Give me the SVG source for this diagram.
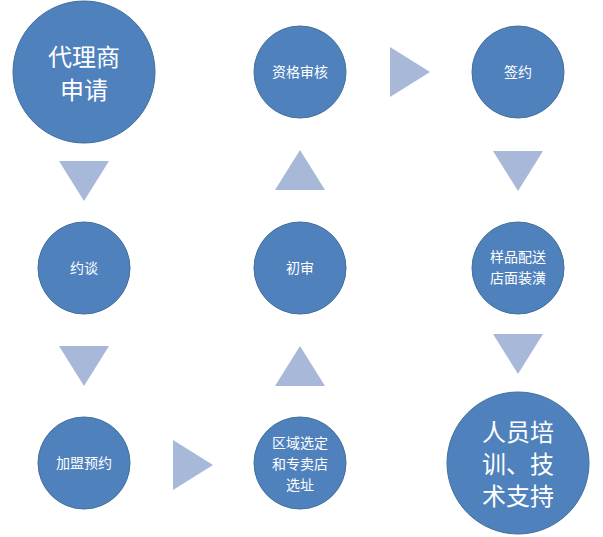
<svg xmlns="http://www.w3.org/2000/svg" width="603" height="537" viewBox="0 0 603 537">
<style>
.n{fill:#4F81BD;stroke:#41719C;stroke-width:1}
.a{fill:#A7B8D8}
text{fill:#fff;font-family:"Noto Sans CJK SC","Liberation Sans",sans-serif;text-anchor:middle}
.s{font-size:14px}
.b{font-size:24px}
</style>
<rect width="603" height="537" fill="#fff"/>
<g id="connectors">
<polygon class="a" points="59,161 109,161 84,201"/>
<polygon class="a" points="59,346 109,346 84,386"/>
<polygon class="a" points="173,440 213,465 173,490"/>
<polygon class="a" points="275,386 325,386 300,346"/>
<polygon class="a" points="275,190 325,190 300,150"/>
<polygon class="a" points="390,47 430,72 390,97"/>
<polygon class="a" points="493,151 543,151 518,191"/>
<polygon class="a" points="493,334 543,334 518,374"/>
</g>
<g id="n1"><circle class="n" cx="84" cy="72" r="71"/><text class="b" x="84" y="66">代理商</text><text class="b" x="84" y="99">申请</text></g>
<g id="n2"><circle class="n" cx="300" cy="72" r="46"/><text class="s" x="300" y="77">资格审核</text></g>
<g id="n3"><circle class="n" cx="518" cy="72" r="46"/><text class="s" x="518" y="77">签约</text></g>
<g id="n4"><circle class="n" cx="84" cy="268" r="46"/><text class="s" x="84" y="273">约谈</text></g>
<g id="n5"><circle class="n" cx="300" cy="268" r="46"/><text class="s" x="300" y="273">初审</text></g>
<g id="n6"><circle class="n" cx="518" cy="268" r="46"/><text class="s" x="518" y="262">样品配送</text><text class="s" x="518" y="283">店面装潢</text></g>
<g id="n7"><circle class="n" cx="84" cy="463" r="46"/><text class="s" x="84" y="468">加盟预约</text></g>
<g id="n8"><circle class="n" cx="300" cy="463" r="46"/><text class="s" x="300" y="448">区域选定</text><text class="s" x="300" y="469">和专卖店</text><text class="s" x="300" y="490">选址</text></g>
<g id="n9"><circle class="n" cx="518" cy="463" r="71"/><text class="b" x="518" y="441">人员培</text><text class="b" x="518" y="473">训、技</text><text class="b" x="518" y="505">术支持</text></g>
</svg>
